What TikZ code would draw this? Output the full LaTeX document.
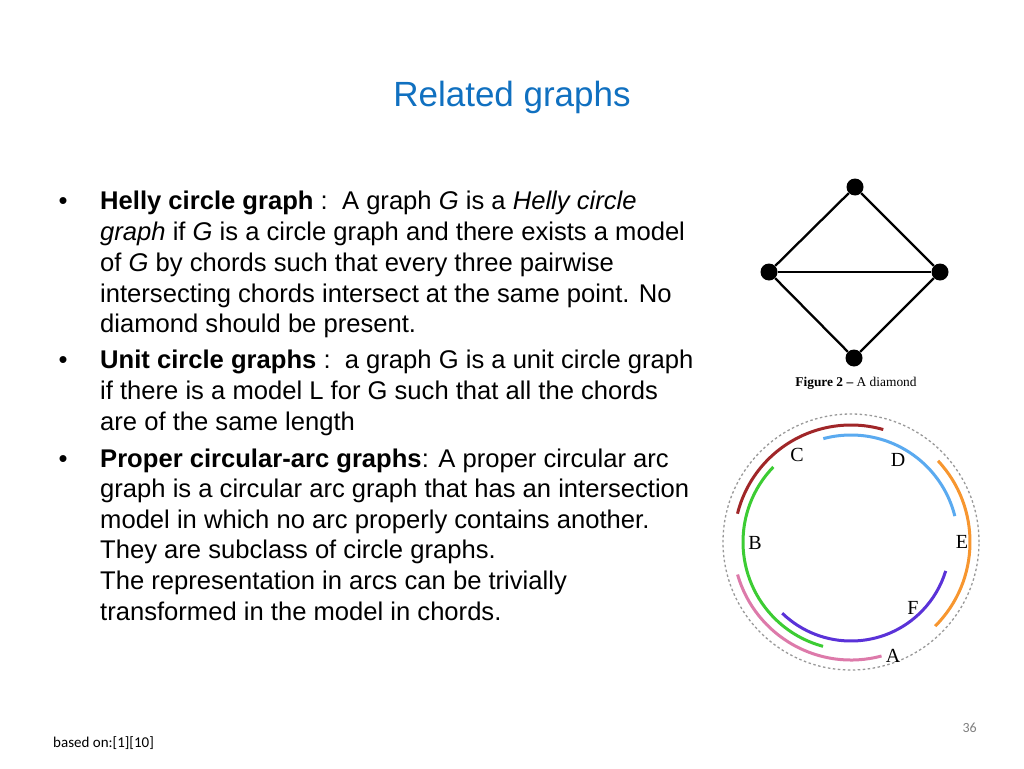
\documentclass[tikz,border=0pt]{standalone}
\usepackage{fontspec}
\setmainfont{Liberation Sans}
\newfontfamily\serifcap{Liberation Serif}
\newfontfamily\calib{Carlito}
\definecolor{titleblue}{RGB}{16,112,192}
\definecolor{arcred}{RGB}{160,38,40}
\definecolor{arcblue}{RGB}{90,170,240}
\definecolor{arcorange}{RGB}{247,150,47}
\definecolor{arcgreen}{RGB}{60,204,51}
\definecolor{arcpurple}{RGB}{90,50,216}
\definecolor{arcpink}{RGB}{221,122,170}
\begin{document}
\begin{tikzpicture}[x=1pt,y=1pt,
  line/.style={anchor=base west,inner sep=0pt,font=\fontsize{25.6}{30}\selectfont},
  bul/.style={anchor=base,inner sep=0pt,font=\fontsize{25.6}{30}\selectfont},
  vert/.style={circle,fill=black,minimum size=17pt,inner sep=0pt},
  edge/.style={line width=2.3pt},
  arcline/.style={line width=3pt},
  lab/.style={inner sep=0pt,font=\fontsize{20}{20}\selectfont\serifcap}]
\useasboundingbox (0,0) rectangle (1024,-768);
\fill[white] (0,0) rectangle (1024,-768);
% title
\node[text=titleblue,font=\fontsize{35}{40}\selectfont,inner sep=0pt] (title) at (512,-97) {Related graphs};
% bullets
\node[bul] (b1) at (63,-209) {•};
\node[bul] (b2) at (63,-368) {•};
\node[bul] (b3) at (63,-467) {•};
% text lines
\node[line] (l1) at (100,-209) {\textbf{Helly circle graph} :\ \ A graph \textit{G} is a \textit{Helly circle}};
\node[line] (l2) at (100,-240) {\textit{graph} if \textit{G} is a circle graph and there exists a model};
\node[line] (l3) at (100,-271) {of \textit{G} by chords such that every three pairwise};
\node[line] (l4) at (100,-302) {intersecting chords intersect at the same point. No};
\node[line] (l5) at (100,-332) {diamond should be present.};
\node[line] (l6) at (100,-368) {\textbf{Unit circle graphs} :\ \ a graph G is a unit circle graph};
\node[line] (l7) at (100,-399) {if there is a model L for G such that all the chords};
\node[line] (l8) at (100,-430) {are of the same length};
\node[line] (l9) at (100,-467) {\textbf{Proper circular-arc graphs}: A proper circular arc};
\node[line] (l10) at (100,-497) {graph is a circular arc graph that has an intersection};
\node[line] (l11) at (100,-528) {model in which no arc properly contains another.};
\node[line] (l12) at (100,-558) {They are subclass of circle graphs.};
\node[line] (l13) at (100,-589) {The representation in arcs can be trivially};
\node[line] (l14) at (100,-620) {transformed in the model in chords.};
% diamond
\node[vert] (top) at (855,-187) {};
\node[vert] (left) at (769,-272) {};
\node[vert] (right) at (940,-272) {};
\node[vert] (bot) at (854,-358) {};
\draw[edge] (top) -- (left);
\draw[edge] (top) -- (right);
\draw[edge] (left) -- (right);
\draw[edge] (left) -- (bot);
\draw[edge] (right) -- (bot);
\node[inner sep=0pt,font=\fontsize{13.4}{13.4}\selectfont\serifcap] (cap) at (856,-383) {\textbf{Figure 2 –} A diamond};
% arc model
\coordinate (c) at (851,-542);
\draw[gray!80,line width=1.3pt,dash pattern=on 2.5pt off 2.5pt] (c) circle[radius=128pt];
\draw[arcline,arcred] ([shift={(74:117pt)}]c) arc[start angle=74,end angle=166,radius=117pt];
\draw[arcline,arcblue] ([shift={(14:107pt)}]c) arc[start angle=14,end angle=105,radius=107pt];
\draw[arcline,arcorange] ([shift={(-45:119pt)}]c) arc[start angle=-45,end angle=43,radius=119pt];
\draw[arcline,arcgreen] ([shift={(136:108pt)}]c) arc[start angle=136,end angle=255,radius=108pt];
\draw[arcline,arcpurple] ([shift={(-134:99pt)}]c) arc[start angle=-134,end angle=-17,radius=99pt];
\draw[arcline,arcpink] ([shift={(-164:118pt)}]c) arc[start angle=-164,end angle=-75,radius=118pt];
\node[lab] (lC) at (797,-455) {C};
\node[lab] (lD) at (898,-460) {D};
\node[lab] (lB) at (755,-543) {B};
\node[lab] (lE) at (962,-542) {E};
\node[lab] (lF) at (913,-608) {F};
\node[lab] (lA) at (893,-656) {A};
% footer
\node[anchor=base west,inner sep=0pt,font=\fontsize{15}{15}\selectfont\calib] (foot) at (53,-747) {based on:[1][10]};
\node[anchor=base east,inner sep=0pt,text=gray,font=\fontsize{14}{14}\selectfont\calib] (page) at (977,-732) {36};
\end{tikzpicture}
\end{document}
